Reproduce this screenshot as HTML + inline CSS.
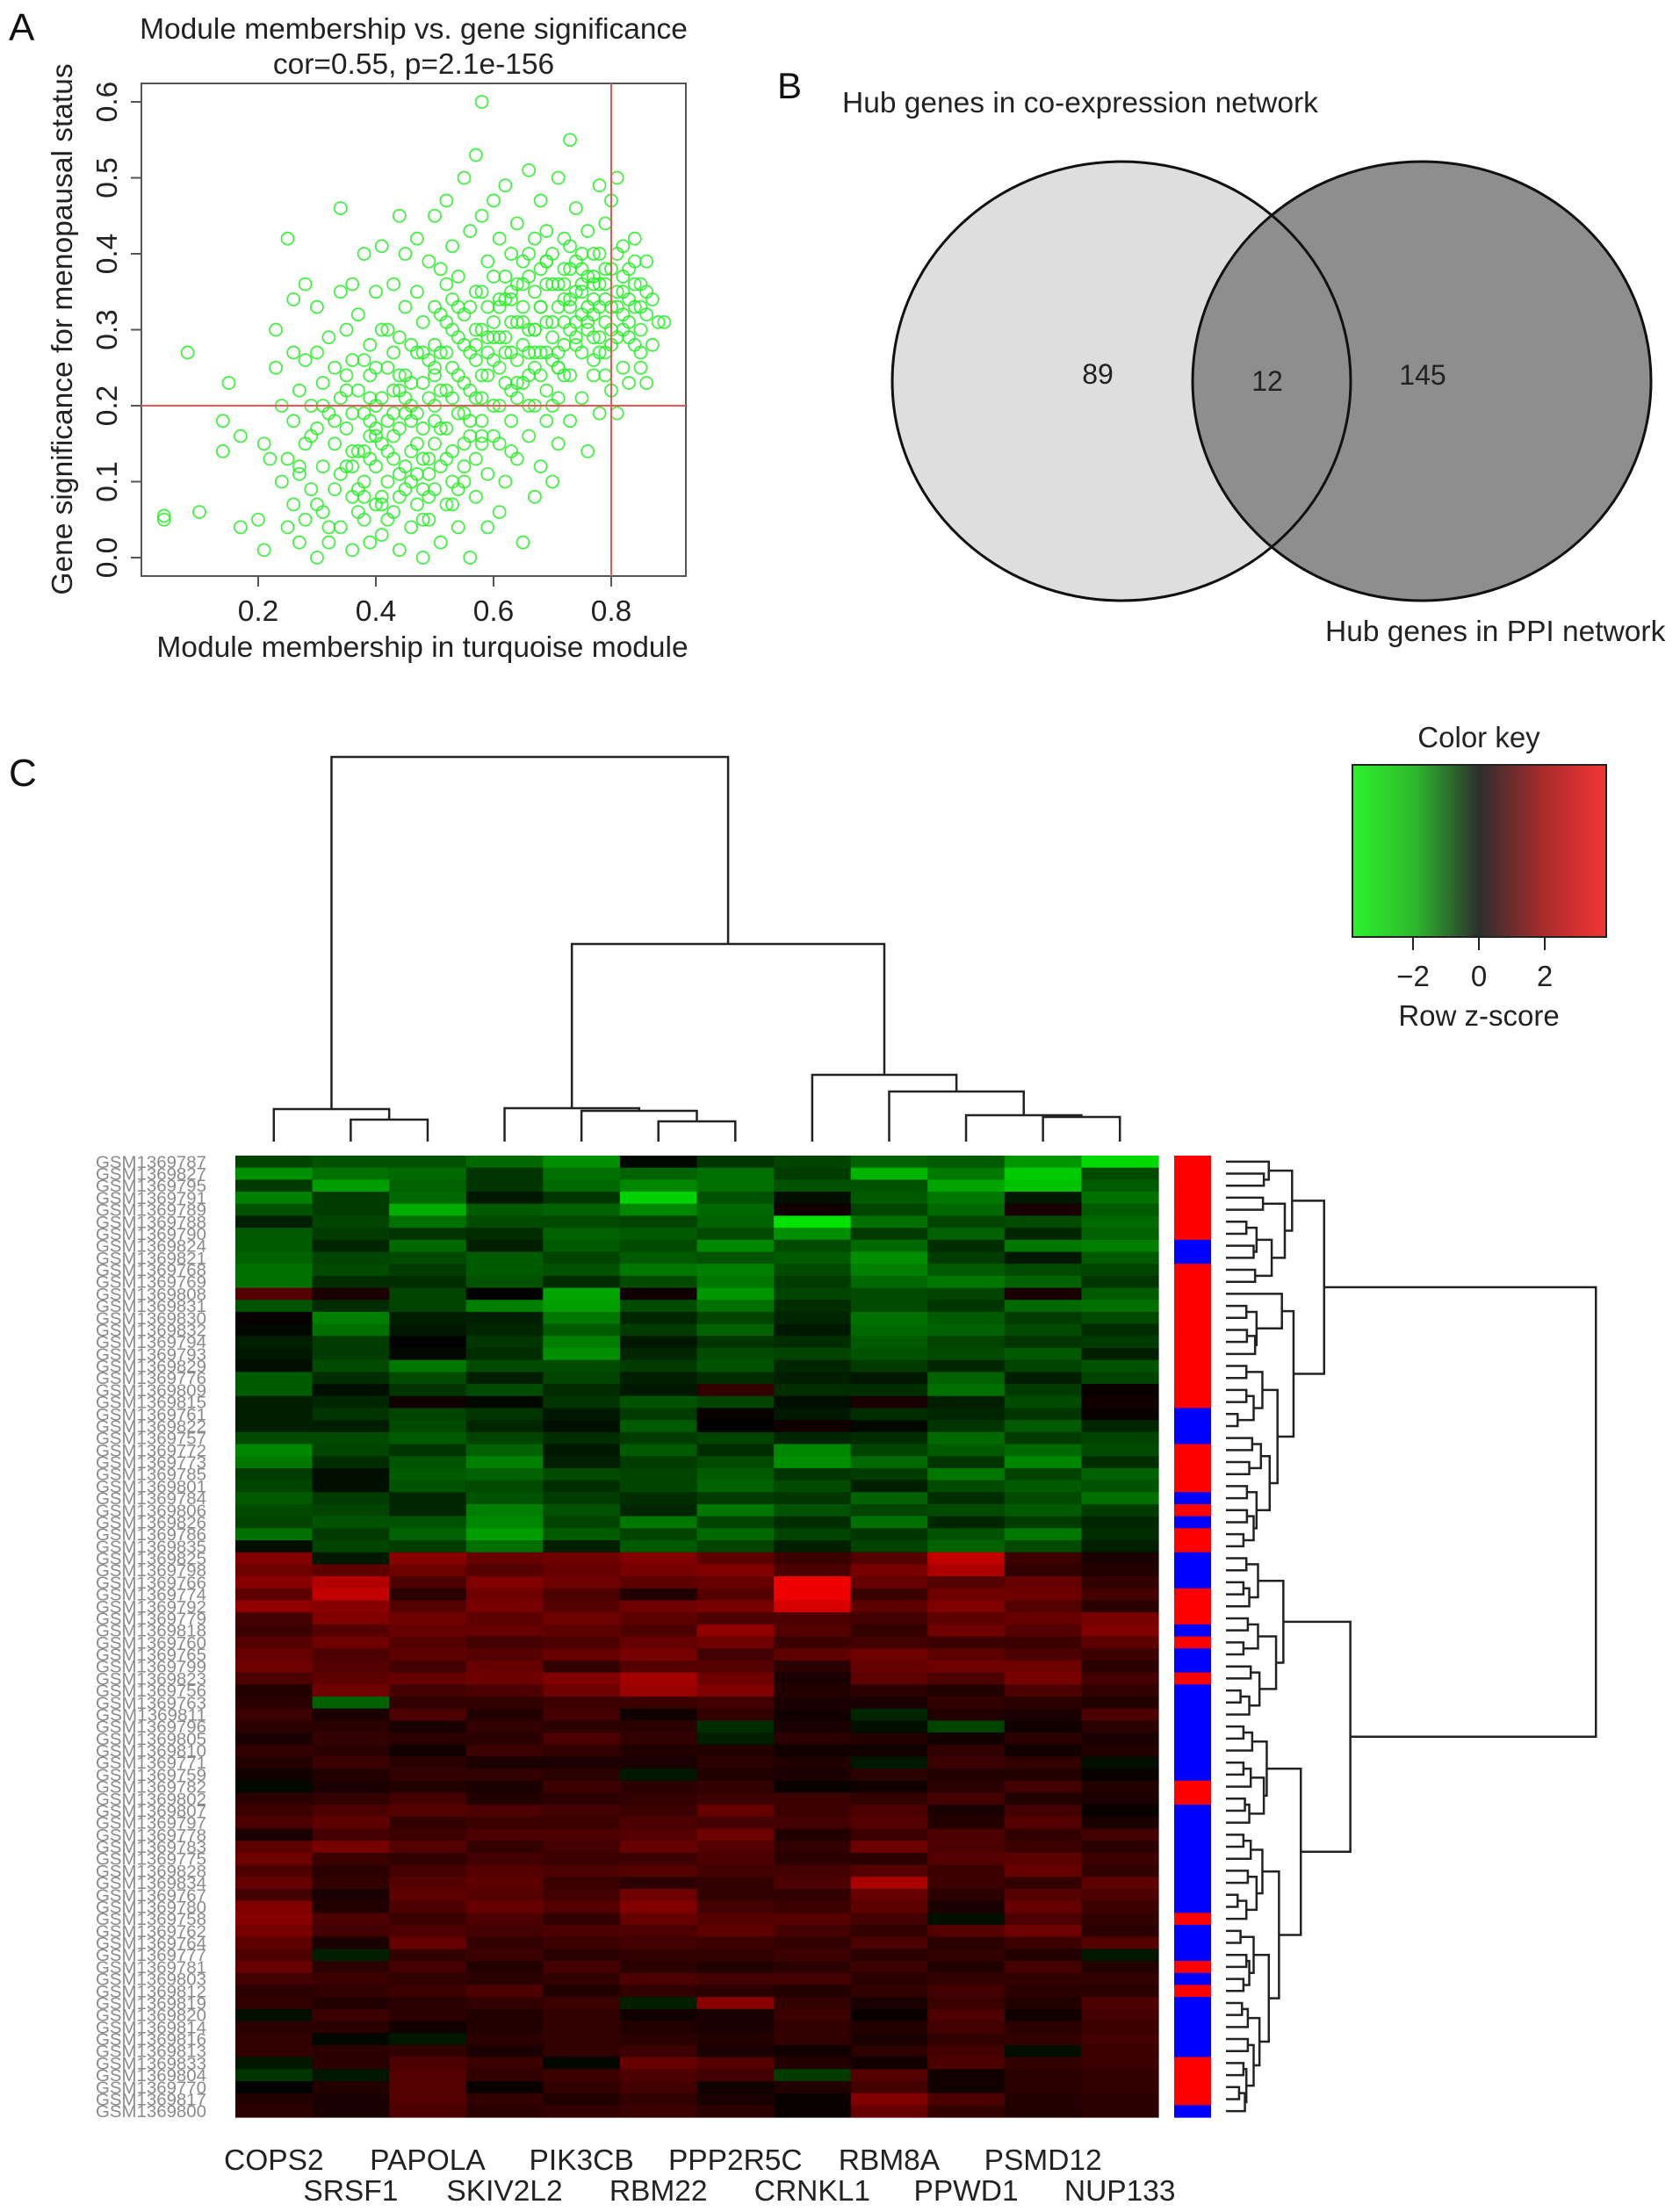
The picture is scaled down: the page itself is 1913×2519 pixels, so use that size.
<!DOCTYPE html>
<html><head><meta charset="utf-8"><style>
html,body{margin:0;padding:0;background:#fff;}
svg{display:block;font-family:"Liberation Sans",Arial,sans-serif;}
</style></head><body>
<svg id="fig" width="1913" height="2519" viewBox="0 0 1913 2519">
<rect x="0" y="0" width="1913" height="2519" fill="#fff"/>
<g>
<text x="10" y="46" font-size="44" fill="#111">A</text>
<text x="471" y="44" font-size="33.5" text-anchor="middle" fill="#222">Module membership vs. gene significance</text>
<text x="471" y="84" font-size="33.5" text-anchor="middle" fill="#222">cor=0.55, p=2.1e-156</text>
<g id="scatterPts"></g>
<rect x="161" y="95" width="620" height="561" fill="none" stroke="#555" stroke-width="2"/>
<g id="scatterAxes"></g>
<text transform="translate(82,375) rotate(-90)" font-size="33.5" text-anchor="middle" fill="#222">Gene significance for menopausal status</text>
<text x="481" y="748" font-size="33.5" text-anchor="middle" fill="#222">Module membership in turquoise module</text>
</g>
<g>
<text x="885" y="112" font-size="42" fill="#111">B</text>
<text x="959" y="128" font-size="33.5" fill="#222">Hub genes in co-expression network</text>
<ellipse cx="1277" cy="434" rx="261" ry="250" fill="#dedede" stroke="none"/>
<ellipse cx="1619" cy="434" rx="261" ry="250" fill="#8e8e8e" stroke="none"/>
<ellipse cx="1277" cy="434" rx="261" ry="250" fill="none" stroke="#111" stroke-width="3"/>
<ellipse cx="1619" cy="434" rx="261" ry="250" fill="none" stroke="#111" stroke-width="3"/>
<text x="1250" y="437" font-size="32" text-anchor="middle" fill="#222">89</text>
<text x="1443" y="445" font-size="32" text-anchor="middle" fill="#222">12</text>
<text x="1620" y="438" font-size="32" text-anchor="middle" fill="#222">145</text>
<text x="1509" y="730" font-size="33.5" fill="#222">Hub genes in PPI network</text>
</g>
<g>
<text x="10" y="895" font-size="44" fill="#111">C</text>
<defs><linearGradient id="kg" x1="0" x2="1" y1="0" y2="0">
<stop offset="0" stop-color="#2ef22e"/><stop offset="0.25" stop-color="#2cb82c"/><stop offset="0.5" stop-color="#2e2e2e"/><stop offset="0.75" stop-color="#a82c2c"/><stop offset="1" stop-color="#f53535"/></linearGradient></defs>
<text x="1684" y="851" font-size="33" text-anchor="middle" fill="#222">Color key</text>
<rect x="1540" y="871" width="289" height="196" fill="url(#kg)" stroke="#222" stroke-width="2"/>
<g id="keyAxis"></g>
<text x="1684" y="1168" font-size="33" text-anchor="middle" fill="#222">Row z-score</text>
<g id="heat"></g>
<g id="side"></g>
<g id="rowLabels"></g>
<g id="colLabels"></g>
<g id="colDendro" stroke="#222" stroke-width="2.5" fill="none"></g>
<g id="rowDendro" stroke="#222" stroke-width="2.5" fill="none"></g>
</g>
</svg>
<script>
const NS="http://www.w3.org/2000/svg";
const mmX=[0.04,0.04,0.08,0.10,0.14,0.14,0.15,0.17,0.17,0.20,0.21,0.21,0.22,
0.23,0.23,0.24,0.24,0.25,0.25,0.25,0.26,0.26,0.26,0.26,0.27,0.27,0.27,0.28,0.28,0.28,0.28,0.29,0.29,0.30,0.30,0.30,0.30,0.31,0.31,0.31,
0.32,0.32,0.32,0.33,0.33,0.33,0.34,0.34,0.34,0.34,0.35,0.35,0.35,0.36,0.36,0.36,0.36,0.37,0.37,0.37,0.38,0.38,0.38,0.38,0.39,0.39,0.39,0.39,0.40,0.40,0.40,0.40,
0.41,0.41,0.41,0.41,0.42,0.42,0.42,0.43,0.43,0.43,0.43,0.44,0.44,0.44,0.44,0.45,0.45,0.45,0.45,0.46,0.46,0.46,0.46,0.47,0.47,0.47,0.47,0.48,0.48,0.48,0.48,0.49,0.49,0.49,0.49,0.50,0.50,0.50,0.50,0.50,
0.51,0.51,0.51,0.51,0.52,0.52,0.52,0.52,0.52,0.53,0.53,0.53,0.53,0.54,0.54,0.54,0.54,0.55,0.55,0.55,0.55,0.56,0.56,0.56,0.56,0.57,0.57,0.57,0.57,0.57,0.58,0.58,0.58,0.58,0.58,0.59,0.59,0.59,0.59,0.60,0.60,0.60,0.60,
0.61,0.61,0.61,0.61,0.62,0.62,0.62,0.62,0.63,0.63,0.63,0.63,0.64,0.64,0.64,0.64,0.65,0.65,0.65,0.65,0.66,0.66,0.66,0.66,0.67,0.67,0.67,0.67,0.68,0.68,0.68,0.68,0.69,0.69,0.69,0.69,0.70,0.70,0.70,0.70,
0.71,0.71,0.71,0.71,0.72,0.72,0.72,0.73,0.73,0.73,0.73,0.74,0.74,0.74,0.75,0.75,0.75,0.76,0.76,0.76,0.77,0.77,0.77,0.77,0.78,0.78,0.78,0.79,0.79,0.79,0.80,0.80,0.80,0.80,
0.81,0.81,0.81,0.81,0.82,0.82,0.82,0.83,0.83,0.83,0.84,0.84,0.84,0.85,0.85,0.85,0.86,0.86,0.86,0.87,0.87,0.88,0.89];
const gsY=[0.05,0.055,0.27,0.06,0.14,0.18,0.23,0.16,0.04,0.05,0.15,0.01,0.13,
0.30,0.25,0.10,0.20,0.42,0.04,0.13,0.34,0.27,0.07,0.18,0.02,0.22,0.11,0.36,0.26,0.15,0.05,0.20,0.09,0.33,0.00,0.17,0.27,0.12,0.06,0.23,
0.29,0.19,0.02,0.09,0.15,0.25,0.46,0.35,0.21,0.04,0.12,0.30,0.17,0.08,0.26,0.36,0.01,0.22,0.14,0.32,0.05,0.19,0.40,0.10,0.28,0.16,0.24,0.02,0.35,0.12,0.07,0.20,
0.41,0.30,0.15,0.03,0.25,0.10,0.18,0.36,0.06,0.22,0.13,0.45,0.29,0.01,0.17,0.33,0.09,0.24,0.40,0.04,0.20,0.14,0.28,0.42,0.11,0.35,0.07,0.23,0.17,0.31,0.00,0.39,0.13,0.26,0.05,0.45,0.20,0.33,0.09,0.15,
0.38,0.27,0.02,0.12,0.47,0.22,0.31,0.07,0.17,0.41,0.34,0.25,0.14,0.04,0.19,0.29,0.37,0.50,0.10,0.23,0.32,0.43,0.16,0.27,0.00,0.53,0.35,0.21,0.08,0.13,0.60,0.45,0.30,0.24,0.18,0.39,0.04,0.11,0.33,0.47,0.26,0.20,0.37,
0.42,0.29,0.15,0.06,0.49,0.34,0.23,0.10,0.40,0.27,0.18,0.31,0.36,0.13,0.21,0.44,0.02,0.28,0.33,0.39,0.51,0.24,0.16,0.30,0.42,0.35,0.20,0.08,0.47,0.27,0.12,0.38,0.31,0.22,0.18,0.43,0.36,0.26,0.10,0.40,
0.50,0.33,0.21,0.15,0.38,0.28,0.42,0.55,0.30,0.24,0.18,0.46,0.35,0.39,0.27,0.21,0.32,0.43,0.37,0.14,0.34,0.29,0.40,0.24,0.49,0.36,0.19,0.31,0.44,0.27,0.38,0.22,0.47,0.33,
0.50,0.29,0.40,0.19,0.35,0.25,0.41,0.31,0.38,0.23,0.42,0.33,0.28,0.36,0.25,0.30,0.39,0.32,0.23,0.34,0.28,0.31,0.31];
// additional dense-core points
const mmX2=[0.27,0.29,0.31,0.33,0.35,0.36,0.37,0.38,0.39,0.40,0.41,0.42,0.42,0.43,0.44,0.45,0.46,0.47,0.48,0.49,0.50,0.51,0.52,0.53,0.54,0.55,0.56,0.57,0.58,0.59,0.60,0.61,0.62,0.63,0.64,0.65,0.66,0.67,0.68,0.69,0.70,0.71,0.72,0.73,0.74,0.75,0.76,0.77,0.78,0.79,0.80,0.82,0.84,
0.30,0.34,0.36,0.38,0.40,0.41,0.43,0.44,0.45,0.47,0.48,0.49,0.50,0.52,0.53,0.54,0.55,0.57,0.58,0.59,0.61,0.62,0.63,0.64,0.66,0.67,0.68,0.70,0.71,0.72,0.73,0.74,0.76,0.77,0.78,0.79,0.81,0.83,0.85,
0.32,0.35,0.37,0.39,0.42,0.44,0.46,0.48,0.50,0.51,0.53,0.55,0.56,0.58,0.60,0.61,0.63,0.65,0.66,0.68,0.69,0.71,0.72,0.74,0.75,0.76,0.78,0.79,0.80,0.82,0.84,0.86,
0.36,0.38,0.40,0.43,0.45,0.47,0.49,0.51,0.53,0.55,0.57,0.59,0.60,0.62,0.64,0.66,0.67,0.69,0.70,0.72,0.73,0.75,0.77,0.78,0.81,0.83,0.85,
0.39,0.41,0.44,0.46,0.48,0.50,0.52,0.54,0.56,0.58,0.61,0.63,0.65,0.67,0.69,0.71,0.73,0.75,0.77,0.79,0.82];
const gsY2=[0.12,0.16,0.20,0.18,0.22,0.14,0.09,0.26,0.13,0.17,0.21,0.05,0.30,0.16,0.24,0.12,0.18,0.27,0.09,0.21,0.25,0.17,0.27,0.21,0.33,0.28,0.22,0.30,0.35,0.27,0.31,0.25,0.29,0.35,0.26,0.23,0.37,0.30,0.33,0.27,0.31,0.36,0.34,0.38,0.31,0.35,0.30,0.37,0.33,0.36,0.30,0.37,0.36,
0.07,0.11,0.19,0.14,0.25,0.08,0.19,0.11,0.21,0.15,0.27,0.11,0.18,0.13,0.30,0.24,0.19,0.26,0.21,0.29,0.20,0.27,0.34,0.23,0.27,0.30,0.24,0.29,0.25,0.36,0.33,0.29,0.33,0.26,0.40,0.34,0.33,0.29,0.33,
0.04,0.24,0.06,0.21,0.14,0.22,0.10,0.13,0.24,0.32,0.10,0.15,0.33,0.15,0.29,0.34,0.22,0.31,0.40,0.33,0.39,0.25,0.31,0.28,0.38,0.31,0.29,0.38,0.28,0.30,0.39,0.35,
0.12,0.08,0.16,0.27,0.19,0.19,0.08,0.22,0.07,0.12,0.28,0.24,0.16,0.37,0.31,0.20,0.27,0.36,0.20,0.24,0.34,0.40,0.32,0.27,0.35,0.34,0.27,
0.18,0.07,0.08,0.23,0.05,0.28,0.36,0.09,0.18,0.16,0.33,0.14,0.36,0.25,0.39,0.27,0.41,0.36,0.36,0.24,0.32];
const xTicks=[0.2,0.4,0.6,0.8];
const yTicks=[0.0,0.1,0.2,0.3,0.4,0.5,0.6];
const cutX=0.8, cutY=0.2;
const sx=v=>160+v*670, sy=v=>635-v*865;
const sp=document.getElementById('scatterPts');
function addPts(xs,ys){
for(let i=0;i<xs.length;i++){
  const c=document.createElementNS(NS,'circle');
  c.setAttribute('cx',sx(xs[i]));c.setAttribute('cy',sy(ys[i]));c.setAttribute('r',7);
  c.setAttribute('fill','none');c.setAttribute('stroke','#22ee22');c.setAttribute('stroke-width','1.8');c.setAttribute('stroke-opacity','0.85');
  
  
  sp.appendChild(c);
}}
addPts(mmX,gsY);addPts(mmX2,gsY2);
const sa=document.getElementById('scatterAxes');
function ln(g,x1,y1,x2,y2,st,w){const l=document.createElementNS(NS,'line');l.setAttribute('x1',x1);l.setAttribute('y1',y1);l.setAttribute('x2',x2);l.setAttribute('y2',y2);l.setAttribute('stroke',st);l.setAttribute('stroke-width',w);g.appendChild(l);return l;}
function tx(g,x,y,s,size,anchor,tr){const t=document.createElementNS(NS,'text');t.setAttribute('x',x);t.setAttribute('y',y);t.setAttribute('font-size',size);t.setAttribute('text-anchor',anchor||'middle');t.setAttribute('fill','#222');if(tr)t.setAttribute('transform',tr);t.textContent=s;g.appendChild(t);return t;}
let rv=ln(sa,sx(cutX),95,sx(cutX),656,'#ee5555',2);


let rh=ln(sa,161,sy(cutY),781,sy(cutY),'#ee5555',2);


xTicks.forEach(v=>{ln(sa,sx(v),656,sx(v),668,'#555',2);
  const t=tx(sa,sx(v),707,v.toFixed(1),33.5);
  
  });
yTicks.forEach(v=>{ln(sa,149,sy(v),161,sy(v),'#555',2);
  const t=tx(sa,0,0,v.toFixed(1),33.5,'middle','translate(133,'+sy(v)+') rotate(-90)');
  
  });

const genes=["COPS2","SRSF1","PAPOLA","SKIV2L2","PIK3CB","RBM22","PPP2R5C","CRNKL1","RBM8A","PPWD1","PSMD12","NUP133"];
const samples=["GSM1369787","GSM1369827","GSM1369795","GSM1369791","GSM1369789","GSM1369788","GSM1369790","GSM1369824","GSM1369821","GSM1369768","GSM1369769","GSM1369808","GSM1369831","GSM1369830","GSM1369832","GSM1369794","GSM1369793","GSM1369829","GSM1369776","GSM1369809","GSM1369815","GSM1369761","GSM1369822","GSM1369757","GSM1369772","GSM1369773","GSM1369785","GSM1369801","GSM1369784","GSM1369806","GSM1369826","GSM1369786","GSM1369835","GSM1369825","GSM1369798","GSM1369766","GSM1369774","GSM1369792","GSM1369779","GSM1369818","GSM1369760","GSM1369765","GSM1369799","GSM1369823","GSM1369756","GSM1369763","GSM1369811","GSM1369796","GSM1369805","GSM1369810","GSM1369771","GSM1369759","GSM1369782","GSM1369802","GSM1369807","GSM1369797","GSM1369778","GSM1369783","GSM1369775","GSM1369828","GSM1369834","GSM1369767","GSM1369780","GSM1369758","GSM1369762","GSM1369764","GSM1369777","GSM1369781","GSM1369803","GSM1369812","GSM1369819","GSM1369820","GSM1369814","GSM1369816","GSM1369813","GSM1369833","GSM1369804","GSM1369770","GSM1369817","GSM1369800"];
const zRows=[
[-0.9,-1.1,-1.1,-1.4,-1.9,-0.1,-0.7,-0.9,-1.3,-1.2,-2,-2.9],
[-1.9,-1.5,-1.4,-0.7,-1.5,-1.3,-1.5,-0.8,-2.4,-1.6,-2.7,-1],
[-0.8,-2.1,-1.3,-0.7,-1.4,-1.8,-1.5,-1.1,-1.1,-2.2,-2.6,-1.2],
[-1.7,-0.8,-1.4,-0.3,-0.7,-2.8,-1.1,-0.2,-1.2,-1.6,-0.3,-1.5],
[-1.1,-0.8,-2.3,-1.2,-1.3,-1.8,-1.4,0.2,-0.9,-1.4,0.3,-1.2],
[-0.4,-0.9,-1.5,-1.0,-1.0,-0.9,-1.3,-3.0,-1.5,-0.9,-1.0,-1.4],
[-1.2,-0.8,-0.7,-0.6,-1.3,-1.2,-1.0,-1.9,-0.8,-1.3,-0.5,-1.3],
[-1.2,-0.5,-1.4,-0.4,-1.2,-1.0,-1.8,-1.0,-1.4,-0.6,-1.6,-1.7],
[-1.3,-0.9,-1.0,-1.2,-0.9,-1.2,-1.1,-1.2,-1.9,-0.8,-0.3,-1.2],
[-1.5,-1.0,-0.8,-1.2,-1.1,-1.6,-1.7,-1.0,-1.7,-1.2,-1.0,-0.9],
[-1.5,-0.6,-0.6,-1.1,-0.6,-1.0,-1.6,-0.8,-1.4,-1.6,-1.3,-0.7],
[1.0,0.3,-0.9,0.0,-2.2,0.2,-2.0,-0.9,-1.0,-0.9,0.3,-1.2],
[-1.1,-0.6,-0.9,-1.7,-2.1,-1.0,-1.5,-0.6,-1.0,-0.7,-1.4,-1.5],
[0.1,-1.7,-0.4,-0.4,-1.6,-0.5,-0.9,-0.5,-1.5,-1.2,-0.8,-1.0],
[-0.1,-1.5,-0.3,-0.5,-1.2,-0.8,-1.3,-0.3,-1.4,-1.3,-1.0,-0.6],
[-0.4,-0.8,0.0,-0.7,-1.7,-0.3,-0.7,-0.6,-1.2,-0.9,-0.7,-0.8],
[-0.3,-0.8,-0.1,-0.6,-1.9,-0.5,-1.0,-0.9,-1.1,-1.0,-1.2,-0.4],
[-0.2,-1.0,-1.6,-1.0,-1.0,-0.8,-1.1,-0.5,-0.8,-0.5,-0.9,-1.1],
[-1.2,-0.6,-1.0,-0.4,-0.9,-0.4,-0.6,-0.4,-0.3,-1.3,-0.4,-0.9],
[-1.2,-0.2,-0.7,-1.0,-0.6,-0.3,0.6,-0.6,-0.6,-1.5,-0.8,0.1],
[-0.4,-0.5,0.2,-0.1,-0.7,-1.1,-0.9,-0.2,0.3,-0.4,-1.0,0.2],
[-0.4,-0.7,-0.9,-0.7,-0.3,-0.8,0.1,-0.3,-0.6,-0.5,-0.7,0.1],
[-0.4,-0.4,-1.0,-0.5,-0.2,-1.2,0.0,0.2,-0.1,-0.7,-1.2,-0.5],
[-1.0,-1.0,-1.2,-0.9,-0.6,-0.8,-0.9,-0.5,-0.6,-1.4,-0.8,-0.9],
[-1.8,-0.9,-0.7,-1.3,-0.3,-1.2,-0.6,-1.8,-0.9,-1.2,-1.4,-1.0],
[-1.6,-0.6,-1.1,-1.7,-0.4,-0.8,-1.0,-1.9,-1.4,-0.7,-1.8,-0.6],
[-0.8,-0.2,-1.2,-1.3,-1.0,-0.9,-1.2,-0.7,-0.8,-1.6,-0.9,-1.3],
[-0.9,-0.2,-1.1,-1.0,-0.6,-0.9,-1.3,-1.0,-0.4,-1.0,-1.2,-1.1],
[-1.2,-0.8,-0.5,-1.1,-0.8,-0.6,-0.8,-0.7,-1.3,-0.6,-1.0,-1.5],
[-1.0,-0.9,-0.5,-1.7,-1.1,-0.5,-1.6,-1.1,-0.9,-1.0,-1.2,-0.8],
[-0.9,-1.1,-1.1,-1.8,-0.9,-1.6,-0.9,-0.6,-1.5,-0.5,-0.8,-0.5],
[-1.5,-0.8,-1.3,-2.1,-1.2,-0.9,-1.4,-0.9,-0.7,-1.1,-1.6,-0.6],
[-0.2,-0.9,-0.8,-1.5,-0.4,-1.2,-0.9,-0.4,-0.9,-1.3,-1.0,-0.4],
[1.5,-0.3,1.6,1.2,1.3,1.5,1.1,0.7,1.0,2.3,0.7,0.3],
[1.3,1.1,1.3,1.0,1.2,1.4,1.5,0.9,1.4,2.0,0.6,0.4],
[1.6,2.1,0.9,1.5,1.3,1.1,1.2,2.8,1.2,1.0,1.2,0.6],
[1.1,2.3,0.5,1.3,0.9,0.4,1.0,2.8,0.7,1.3,1.3,0.8],
[1.7,1.6,1.0,1.4,1.0,1.3,1.4,2.5,1.1,1.5,1.0,0.5],
[0.8,1.5,1.3,1.1,1.3,1.1,0.9,0.9,0.8,1.1,1.2,1.4],
[0.7,1.0,1.2,1.2,1.1,0.9,1.7,1.0,0.6,1.3,1.0,1.5],
[1.0,1.3,1.0,0.8,0.9,1.2,1.3,0.7,0.8,0.7,0.7,1.1],
[1.2,0.9,1.1,1.0,1.2,1.4,0.8,1.1,1.3,1.1,0.9,0.7],
[1.3,1.0,0.8,1.2,0.6,1.0,1.0,0.5,1.2,1.3,1.3,0.5],
[0.9,1.1,1.2,1.3,1.5,1.9,1.3,0.3,1.1,0.9,1.4,0.8],
[0.4,1.3,0.8,0.9,1.3,1.8,1.5,0.4,0.5,0.4,0.9,0.6],
[0.5,-1.3,0.6,0.6,0.7,0.7,0.8,0.3,0.3,0.6,0.5,0.4],
[0.7,0.3,0.9,0.4,0.8,0.2,0.6,0.2,-0.5,0.4,0.3,0.9],
[0.5,0.5,0.3,0.6,0.5,0.5,-0.6,0.3,-0.2,-0.9,0.2,0.5],
[0.3,0.6,0.5,0.5,0.9,0.6,-0.4,0.5,0.4,0.2,0.5,0.3],
[0.6,0.5,0.2,0.7,0.6,0.4,0.4,0.2,0.2,0.6,0.2,0.4],
[0.4,0.7,0.5,0.3,0.3,0.3,0.5,0.4,-0.3,0.7,0.6,-0.2],
[0.2,0.4,0.6,0.6,0.5,-0.3,0.4,0.3,0.5,0.4,0.4,0.1],
[-0.1,0.3,0.4,0.3,0.7,0.5,0.6,0.1,0.2,0.5,0.8,0.4],
[0.5,0.6,0.8,0.4,0.5,0.6,0.7,0.7,0.6,0.8,0.4,0.3],
[0.7,0.9,1.0,0.9,0.8,0.7,1.2,0.7,0.9,0.3,0.8,0.1],
[0.9,1.1,0.6,0.7,0.7,0.9,0.8,0.8,1.0,0.4,1.0,0.3],
[0.3,0.8,0.7,0.9,0.9,1.0,1.3,0.4,0.7,0.9,0.6,0.8],
[1.1,1.4,1.0,0.6,0.8,1.2,1.0,0.6,1.3,0.9,0.7,0.5],
[1.3,0.7,0.6,0.8,0.7,0.7,0.9,0.5,0.5,1.0,1.1,0.7],
[0.9,0.5,0.8,1.0,0.9,1.0,0.8,0.8,1.0,0.7,1.2,0.6],
[1.2,0.6,1.0,1.1,0.7,0.5,0.6,0.9,2.0,0.7,0.6,1.1],
[0.8,0.3,1.1,1.0,0.8,1.3,0.6,0.6,1.2,0.5,1.0,0.9],
[1.5,0.4,0.9,1.2,1.0,1.5,0.8,0.7,1.1,0.3,1.2,0.7],
[1.6,0.9,0.7,0.9,0.6,1.2,1.0,1.0,0.8,-0.2,0.9,0.6],
[1.4,0.8,0.9,0.8,0.9,0.9,1.1,0.8,0.6,1.0,1.3,0.5],
[1.1,0.3,1.2,0.6,0.7,0.8,0.7,0.6,0.9,0.5,0.7,1.0],
[0.9,-0.4,0.6,0.7,0.5,0.6,0.6,0.7,0.5,0.6,0.4,-0.3],
[1.2,0.5,0.8,0.4,0.8,0.5,0.4,0.5,0.7,0.4,0.8,0.4],
[0.8,0.7,0.6,0.5,0.6,0.9,0.8,0.8,0.5,0.6,0.6,0.6],
[0.5,0.6,0.7,0.9,0.4,0.6,0.5,0.4,0.6,0.8,0.5,0.5],
[0.6,0.4,0.5,0.6,0.7,-0.4,1.6,0.6,0.3,0.7,0.4,0.9],
[-0.2,0.7,0.5,0.4,0.6,0.2,0.3,0.7,0.1,0.9,0.2,0.8],
[0.5,0.5,0.2,0.4,0.6,0.4,0.3,0.6,0.4,0.8,0.5,0.7],
[0.6,-0.1,-0.3,0.5,0.6,0.5,0.4,0.6,0.3,0.6,0.6,0.8],
[0.6,0.5,0.6,0.3,0.6,0.7,0.3,0.2,0.5,0.8,-0.2,0.7],
[-0.3,0.5,0.9,0.7,-0.1,1.2,1.0,0.4,0.2,0.9,0.6,0.7],
[-0.7,-0.3,1.0,0.6,0.7,0.9,0.8,-0.8,1.0,0.2,0.5,0.6],
[0.0,0.4,1.0,0.1,0.6,0.8,0.2,0.4,0.8,0.2,0.5,0.6],
[0.4,0.3,1.0,0.6,0.4,0.6,0.3,0.1,1.5,0.9,0.4,0.5],
[0.5,0.3,0.9,0.5,0.6,0.7,0.5,0.1,1.2,0.6,0.4,0.5]];
const groupCodes=[1,1,1,1,1,1,1,0,0,1,1,1,1,1,1,1,1,1,1,1,1,0,0,0,1,1,1,1,0,1,0,1,1,0,0,0,1,1,1,0,1,0,0,1,0,0,0,0,0,0,0,0,1,1,0,0,0,0,0,0,0,0,0,1,0,0,0,1,0,1,0,0,0,0,0,1,1,1,1,0];
const keyTicks=[-2,0,2];
const colTree=[438,[37,0,[25,1,2]],[225,[38,3,[35,4,[23,5,6]]],[76,7,[57,8,[30,9,[28,10,11]]]]]];
const A1=[227,[147,0,[130,1,2]],[202,[127,3,4],[157,[105,[70,5,6],[95,7,8]],[100,9,10]]]];
const A2a=[192,11,[105,[70,12,13],[100,[72,14,15],16]]];
const A2b=[177,[125,[70,17,18],[95,[70,19,20],[40,21,22]]],[150,[120,[90,23,24],[80,25,26]],[105,[72,27,28],[95,[72,29,30],[60,31,32]]]]];
const B1=[197,[110,[70,33,34],[80,[60,35,36],37]],[172,[110,[75,38,39],[60,40,41]],[115,[85,42,43],[80,[50,44,45],46]]]];
const B2a=[140,[90,[60,47,48],49],[130,[85,[60,50,51],52],[80,[65,53,54],55]]];
const B2b=[182,[125,[85,[60,56,57],58],[105,[75,59,60],[70,[40,61,62],63]]],[147,[95,[50,64,65],[80,[70,66,67],[60,68,69]]],[115,[75,[55,70,71],72],[95,[75,73,74],[70,[60,75,76],[65,[45,77,78],79]]]]]];
const rowTree=[1270,[337,A1,[232,A2a,A2b]],[427,B1,[257,B2a,B2b]]];

const HX=268, HY=1316, HW=1051, HH=1095;
const nR=zRows.length, nC=genes.length;
const cw=HW/nC, rh2=HH/nR;
function zColor(v){if(v<0){const g=Math.min(255,Math.round(-v*75));return 'rgb(0,'+g+',0)';}const r=Math.min(255,Math.round(v*85));return 'rgb('+r+',0,0)';}
const heat=document.getElementById('heat');
for(let r=0;r<nR;r++)for(let c=0;c<nC;c++){
  const el=document.createElementNS(NS,'rect');
  el.setAttribute('x',HX+c*cw);el.setAttribute('y',HY+r*rh2);el.setAttribute('width',cw+0.6);el.setAttribute('height',rh2+0.6);
  el.setAttribute('fill',zColor(zRows[r][c]));
  
  
  heat.appendChild(el);
}
const side=document.getElementById('side');
for(let r=0;r<nR;r++){
  const el=document.createElementNS(NS,'rect');
  el.setAttribute('x',1337);el.setAttribute('y',HY+r*rh2);el.setAttribute('width',42);el.setAttribute('height',rh2+0.6);
  el.setAttribute('fill',groupCodes[r]?'#ff0000':'#0000ff');
  
  
  side.appendChild(el);
}
const rl=document.getElementById('rowLabels');
for(let r=0;r<nR;r++){
  const t=document.createElementNS(NS,'text');
  t.setAttribute('x',109);t.setAttribute('y',HY+(r+0.5)*rh2+7);
  t.setAttribute('font-size',19);t.setAttribute('fill','#8a8a8a');
  t.setAttribute('textLength',126);t.setAttribute('lengthAdjust','spacingAndGlyphs');
  t.textContent=samples[r];
  
  
  rl.appendChild(t);
}
const cl=document.getElementById('colLabels');
for(let c=0;c<nC;c++){
  const t=tx(cl,HX+(c+0.5)*cw,c%2?2506:2471,genes[c],33.5);
  
  
}
const ka=document.getElementById('keyAxis');
keyTicks.forEach(v=>{const x=1684+v*37.5;ln(ka,x,1067,x,1082,'#222',2);
  const t=tx(ka,x,1123,v<0?'\u2212'+(-v):String(v),33);
  
  });

const cd=document.getElementById('colDendro');
const colBase=1300;
function drawCol(n){
  if(typeof n==='number'){return {x:HX+(n+0.5)*cw,y:colBase};}
  const a=drawCol(n[1]), b=drawCol(n[2]); const y=colBase-n[0];
  const p=document.createElementNS(NS,'path');
  p.setAttribute('d','M'+a.x+','+a.y+'V'+y+'H'+b.x+'V'+b.y);
  
  
  cd.appendChild(p);
  return {x:(a.x+b.x)/2,y:y};
}
drawCol(colTree);
const rd=document.getElementById('rowDendro');
const rowBase=1396, rowScale=1/3.015;
function drawRow(n){
  if(typeof n==='number'){return {x:rowBase,y:HY+(n+0.5)*rh2};}
  const a=drawRow(n[1]), b=drawRow(n[2]); const x=rowBase+n[0]*rowScale;
  const p=document.createElementNS(NS,'path');
  p.setAttribute('d','M'+a.x+','+a.y+'H'+x+'V'+b.y+'H'+b.x);
  
  
  rd.appendChild(p);
  return {x:x,y:(a.y+b.y)/2};
}
drawRow(rowTree);
</script>
</body></html>
